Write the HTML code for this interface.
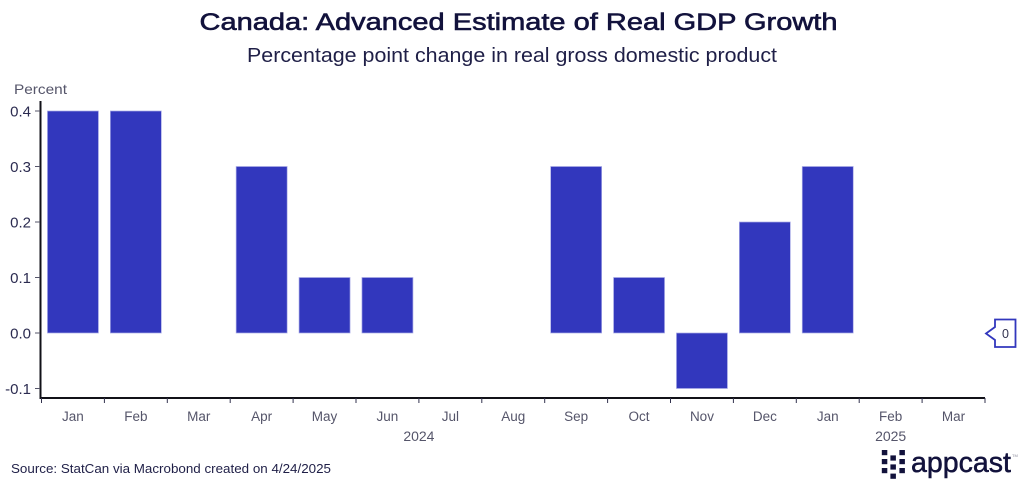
<!DOCTYPE html>
<html lang="en">
<head>
<meta charset="utf-8">
<title>Canada: Advanced Estimate of Real GDP Growth</title>
<style>
html,body{margin:0;padding:0;background:#fff;width:1024px;height:487px;overflow:hidden}
svg{display:block;font-family:"Liberation Sans",sans-serif}
</style>
</head>
<body>
<svg id="chart" xmlns="http://www.w3.org/2000/svg" width="1024" height="487" viewBox="0 0 1024 487">
<rect width="1024" height="487" fill="#ffffff"/>
<text x="518.5" y="30" text-anchor="middle" font-size="24" fill="#12123c" stroke="#12123c" stroke-width="0.6" textLength="638" lengthAdjust="spacingAndGlyphs">Canada: Advanced Estimate of Real GDP Growth</text>
<text x="512" y="62" text-anchor="middle" font-size="20.5" fill="#1f1f47" textLength="530" lengthAdjust="spacingAndGlyphs">Percentage point change in real gross domestic product</text>
<text x="14" y="94" font-size="14" fill="#55556a" textLength="53" lengthAdjust="spacingAndGlyphs">Percent</text>
<g id="bars"></g>
<g id="y-axis"></g>
<g id="x-axis"></g>
<g>
<path d="M995 319.500H1015.500V347H995V340L986 333.500L995 327Z" fill="#ffffff" stroke="#3237bd" stroke-width="1.800"/>
<text x="1005.500" y="338" text-anchor="middle" font-size="12.500" fill="#33334f">0</text>
</g>
<text x="11" y="473" font-size="13" fill="#1f1f47" textLength="320" lengthAdjust="spacingAndGlyphs">Source: StatCan via Macrobond created on 4/24/2025</text>
<g id="logo">
<text x="911" y="472" font-size="29" fill="#12123c" stroke="#12123c" stroke-width="0.5" textLength="100" lengthAdjust="spacingAndGlyphs">appcast</text>
<text x="1012" y="457" font-size="4" fill="#8a8a9a">TM</text>
</g>
</svg>
<script>
const categories = ["Jan","Feb","Mar","Apr","May","Jun","Jul","Aug","Sep","Oct","Nov","Dec","Jan","Feb","Mar"];
const growthValues = [0.4,0.4,null,0.3,0.1,0.1,null,null,0.3,0.1,-0.1,0.2,0.3,null,null];
const yTickLabels = ["0.4","0.3","0.2","0.1","0.0","-0.1"];
const yTickValues = [0.4,0.3,0.2,0.1,0,-0.1];
const yearLabels = ["2024","2025"];
const yearCenterBands = [6,13.5];

const NS = "http://www.w3.org/2000/svg";
const plotLeft = 41.5, plotRight = 985, axisY = 398, axisTop = 101;
const bandW = (plotRight - plotLeft) / categories.length;
const barW = 51;
function xAt(i){ return plotLeft + bandW * i; }
function yAt(v){ return 333 - v * 555; }
function make(tag, attrs, parent){
  const el = document.createElementNS(NS, tag);
  for (const k in attrs) el.setAttribute(k, attrs[k]);
  parent.appendChild(el);
  return el;
}

const barsG = document.getElementById("bars");
growthValues.forEach(function(v, i){
  if (v === null) return;
  const top = Math.min(yAt(v), yAt(0));
  const h = Math.abs(yAt(v) - yAt(0));
  const r = make("rect", {x: xAt(i) + (bandW - barW) / 2, y: top, width: barW, height: h, fill: "#3237bd", stroke: "#a9abe6", "stroke-width": 0.7}, barsG);
  
  
});

const yG = document.getElementById("y-axis");
const yLine = make("line", {x1: 40.5, x2: 40.5, y1: axisTop, y2: axisY + 1, stroke: "#111118", "stroke-width": 2}, yG);


yTickValues.forEach(function(v, i){
  const y = yAt(v);
  const t = make("line", {x1: 35, x2: 40, y1: y, y2: y, stroke: "#55556a", "stroke-width": 1}, yG);
  
  
  const l = make("text", {x: 31, y: y + 5.5, "text-anchor": "end", "font-size": 15, fill: "#2b2b50"}, yG);
  
  
  l.textContent = yTickLabels[i];
});

const xG = document.getElementById("x-axis");
const xLine = make("line", {x1: 39.5, x2: plotRight, y1: axisY, y2: axisY, stroke: "#111118", "stroke-width": 2}, xG);


for (let i = 0; i <= categories.length; i++) {
  const t = make("line", {x1: xAt(i), x2: xAt(i), y1: axisY, y2: axisY + 5, stroke: "#33334f", "stroke-width": 1}, xG);
  
  
}
categories.forEach(function(c, i){
  const l = make("text", {x: xAt(i) + bandW / 2, y: 421, "text-anchor": "middle", "font-size": 13.5, fill: "#55556a"}, xG);
  
  
  l.textContent = c;
});
yearLabels.forEach(function(c, i){
  const l = make("text", {x: xAt(yearCenterBands[i]), y: 441, "text-anchor": "middle", "font-size": 14, fill: "#55556a"}, xG);
  
  
  l.textContent = c;
});

const logo = document.getElementById("logo");
const dotCols = [881.8, 890.4, 899.4];
const dotRowsByCol = [[450, 459, 468], [455.4, 464.4, 473.6], [450, 459, 468]];
dotCols.forEach(function(x, ci){
  dotRowsByCol[ci].forEach(function(y){
    const d = make("rect", {x: x, y: y, width: 5.5, height: 5.2, fill: "#12123c"}, logo);
    
    
  });
});
</script>
</body>
</html>
